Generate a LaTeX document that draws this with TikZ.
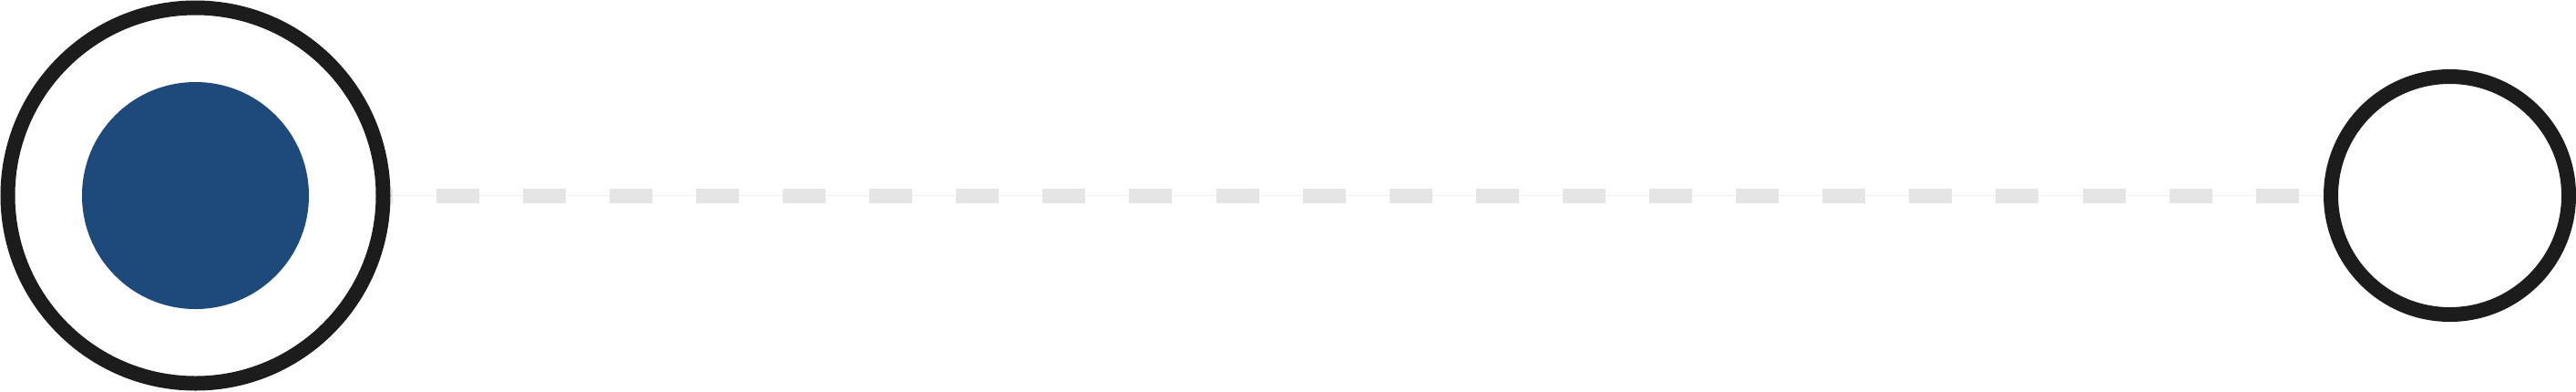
\documentclass[tikz,border=0pt]{standalone}
\usepackage{xcolor}
\usepackage{tikz}
\usetikzlibrary{positioning}
\definecolor{Ink}{HTML}{1C1C1C}
\definecolor{Navy}{HTML}{1E497B}
\definecolor{Track}{HTML}{E5E5E5}
\definecolor{Hair}{HTML}{F2F2F2}

\begin{document}
\begin{tikzpicture}[ring/.style={draw=Ink, circle, line width=0.16cm, inner sep=0pt}]
  \useasboundingbox (0,0) rectangle (28.27,4.29);
  \node[ring, minimum size=4.12cm] (start) at (2.145,2.145) {};
  \node[circle, fill=Navy, inner sep=0pt, minimum size=2.49cm] (startdot) at (start.center) {};
  \node[ring, minimum size=2.61cm] (finish) at (26.885,2.145) {};

  \draw[Hair, line width=0.01cm] (start) -- (finish);
  \draw[Track, line width=0.16cm, dash pattern=on 0.47cm off 0.481cm, dash phase=0.45cm] (start) -- (finish);
\end{tikzpicture}
\end{document}
